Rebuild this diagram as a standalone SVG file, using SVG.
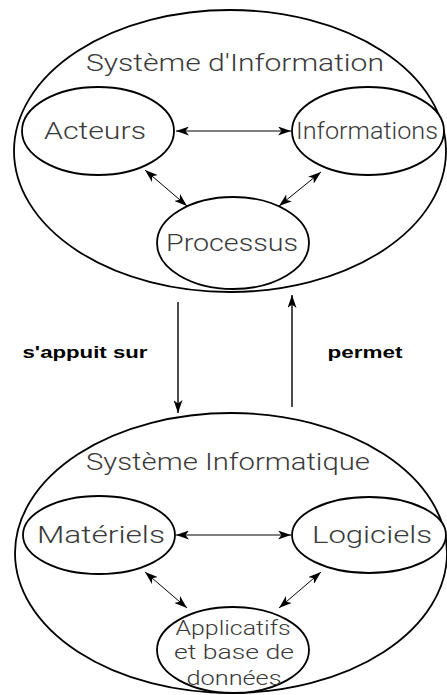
<svg xmlns="http://www.w3.org/2000/svg" width="447" height="695" viewBox="0 0 447 695">
<style>
.big{fill:none;stroke:#000;stroke-width:1.8}
.node{fill:#fff;stroke:#000;stroke-width:1.8}
.t{font-family:"Century Gothic","Roboto","Liberation Sans",sans-serif;font-weight:300;fill:#3a3a3a;text-anchor:middle}
.lbl{font-family:"Liberation Sans","DejaVu Sans",sans-serif;font-weight:bold;fill:#000;text-anchor:middle;font-size:17px}
.c{stroke:#000;stroke-width:1;fill:none}
.m{stroke:#000;stroke-width:1.4;fill:none}
</style>
<defs>
<marker id="ah" viewBox="0 0 13 9" refX="13" refY="4.5" markerWidth="13" markerHeight="9" markerUnits="userSpaceOnUse" orient="auto-start-reverse">
<path d="M0,0 L13,4.5 L0,9 L3.5,4.5 z" fill="#000"/>
</marker>
</defs>
<g id="si">
<ellipse class="big" cx="230" cy="151" rx="216" ry="141"/>
<text class="t" x="235" y="71" font-size="24" textLength="298" lengthAdjust="spacingAndGlyphs">Système d'Information</text>
</g>
<g id="acteurs">
<ellipse class="node" cx="98" cy="131" rx="76" ry="44"/>
<text class="t" x="95" y="139" font-size="24" textLength="102" lengthAdjust="spacingAndGlyphs">Acteurs</text>
</g>
<g id="informations">
<ellipse class="node" cx="368" cy="131" rx="76" ry="44"/>
<text class="t" x="367" y="139" font-size="24" textLength="142" lengthAdjust="spacingAndGlyphs">Informations</text>
</g>
<g id="processus">
<ellipse class="node" cx="233" cy="243" rx="76" ry="46"/>
<text class="t" x="232" y="251" font-size="24" textLength="132" lengthAdjust="spacingAndGlyphs">Processus</text>
</g>
<g id="sinfo">
<ellipse class="big" cx="231" cy="553" rx="216" ry="140"/>
<text class="t" x="228" y="470" font-size="24" textLength="284" lengthAdjust="spacingAndGlyphs">Système Informatique</text>
</g>
<g id="materiels">
<ellipse class="node" cx="99" cy="535" rx="76" ry="39"/>
<text class="t" x="101" y="543" font-size="24" textLength="128" lengthAdjust="spacingAndGlyphs">Matériels</text>
</g>
<g id="logiciels">
<ellipse class="node" cx="369" cy="535" rx="77" ry="38"/>
<text class="t" x="372" y="543" font-size="24" textLength="120" lengthAdjust="spacingAndGlyphs">Logiciels</text>
</g>
<g id="applicatifs">
<ellipse class="node" cx="233" cy="650" rx="76" ry="43"/>
<text class="t" x="233" y="635" font-size="20" textLength="115" lengthAdjust="spacingAndGlyphs">Applicatifs</text>
<text class="t" x="234" y="659" font-size="20" textLength="120" lengthAdjust="spacingAndGlyphs">et base de</text>
<text class="t" x="234" y="685" font-size="20" textLength="95" lengthAdjust="spacingAndGlyphs">données</text>
</g>
<g id="connectors">
<line class="c" x1="176" y1="131" x2="291" y2="131" marker-start="url(#ah)" marker-end="url(#ah)"/>
<line class="c" x1="145" y1="170" x2="187" y2="206" marker-start="url(#ah)" marker-end="url(#ah)"/>
<line class="c" x1="321" y1="172" x2="279" y2="206" marker-start="url(#ah)" marker-end="url(#ah)"/>
<line class="m" x1="178" y1="302" x2="178" y2="413" marker-end="url(#ah)"/>
<line class="m" x1="292" y1="407" x2="292" y2="295" marker-end="url(#ah)"/>
<line class="c" x1="176" y1="535" x2="291" y2="535" marker-start="url(#ah)" marker-end="url(#ah)"/>
<line class="c" x1="145" y1="572" x2="187" y2="608" marker-start="url(#ah)" marker-end="url(#ah)"/>
<line class="c" x1="321" y1="572" x2="279" y2="608" marker-start="url(#ah)" marker-end="url(#ah)"/>
<text class="lbl" x="85" y="358" textLength="125" lengthAdjust="spacingAndGlyphs">s'appuit sur</text>
<text class="lbl" x="365" y="358" textLength="75" lengthAdjust="spacingAndGlyphs">permet</text>
</g>
</svg>
